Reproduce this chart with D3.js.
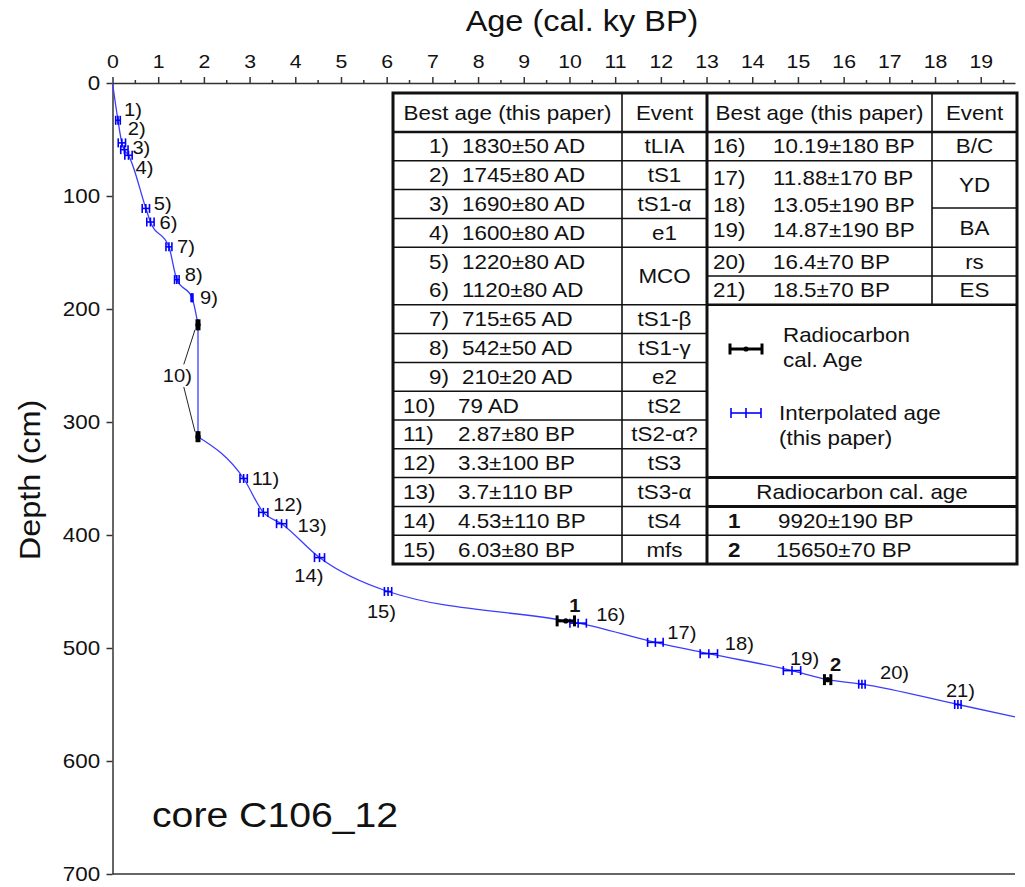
<!DOCTYPE html>
<html>
<head>
<meta charset="utf-8">
<script src="https://cdn.jsdelivr.net/npm/d3@7"></script>
<style>
  html, body { margin: 0; padding: 0; background: #fff; }
  svg { display: block; }
  text { font-family: "Liberation Sans", Arial, sans-serif; fill: #111; }
</style>
</head>
<body>
<svg id="chart" width="1025" height="887"></svg>
<script>
// ---- Age model of core C106_12 ----
const eventNumbers = ["1)", "2)", "3)", "4)", "5)", "6)", "7)", "8)", "9)", "10)", "11)", "12)", "13)", "14)", "15)",
                      "16)", "17)", "18)", "19)", "20)", "21)"];
const bestAges = ["1830±50 AD", "1745±80 AD", "1690±80 AD", "1600±80 AD", "1220±80 AD", "1120±80 AD",
                  "715±65 AD", "542±50 AD", "210±20 AD", "79 AD", "2.87±80 BP", "3.3±100 BP", "3.7±110 BP",
                  "4.53±110 BP", "6.03±80 BP", "10.19±180 BP", "11.88±170 BP", "13.05±190 BP",
                  "14.87±190 BP", "16.4±70 BP", "18.5±70 BP"];
const eventDepths = [33, 53, 59, 64, 111, 123, 145, 174, 190, null, 350, 380, 390, 420, 450,
                     478, 495, 505, 520, 532, 550];
const leftEvents = ["tLIA", "tS1", "tS1-α", "e1", "MCO", "tS1-β", "tS1-γ", "e2", "tS2", "tS2-α?", "tS3", "tS3-α", "tS4", "mfs"];
const rightEvents = ["B/C", "YD", "BA", "rs", "ES"];

// event 10 (79 AD) is dated at the top and base of the deposit
const tephraIndex = 9;
const tephraDepths = [214, 313];

// radiocarbon calibrated ages
const radiocarbonIds = ["1", "2"];
const radiocarbonAges = ["9920±190 BP", "15650±70 BP"];
const radiocarbonDepths = [476, 528];

// age-depth curve end points
const curveStart = [0, 0];
const curveEnd = [19.75, 561];

const xTicks = d3.range(0, 20);
const xMinorTicks = d3.range(0.5, 20, 1);
const yTicks = d3.range(0, 701, 100);

// ---- parse "value±error AD/BP" into ky BP ----
function parseAge(s) {
  const m = s.match(/([\d.]+)(?:±(\d+))?\s*(AD|BP)/);
  const v = +m[1], e = m[2] ? +m[2] : 0;
  if (m[3] === "AD") return { age: (1950 - v) / 1000, err: e / 1000 };
  return { age: v > 100 ? v / 1000 : v, err: e / 1000 };
}

const SX = 1.12; // horizontal text stretch
const svg = d3.select("#chart");

function txt(g, x, y, s, size, anchor = "start", weight = "normal") {
  return g.append("text")
    .attr("transform", `translate(${x},${y}) scale(${SX},1)`)
    .attr("text-anchor", anchor)
    .style("font-size", size + "px")
    .style("font-weight", weight)
    .text(s);
}

const x = d3.scaleLinear().domain([0, 19.75]).range([112.5, 1015]);
const y = d3.scaleLinear().domain([0, 700]).range([83, 874]);

// ---- axes ----
const axisColor = "#333";
const gx = svg.append("g").attr("transform", `translate(0,${y(0)})`)
  .call(d3.axisTop(x).tickValues(xTicks).tickSize(6).tickSizeOuter(0).tickPadding(9).tickFormat(d3.format("d")));
gx.selectAll("text").style("font-size", "19px").attr("transform", `scale(${SX},1)`).style("fill", "#111");
gx.selectAll("line,path").attr("stroke", axisColor).attr("stroke-width", 1.5);
svg.append("g").selectAll("line").data(xMinorTicks).join("line")
  .attr("x1", d => x(d)).attr("x2", d => x(d))
  .attr("y1", y(0)).attr("y2", y(0) - 3)
  .attr("stroke", axisColor).attr("stroke-width", 1.5);

const gy = svg.append("g").attr("transform", `translate(${x(0)},0)`)
  .call(d3.axisLeft(y).tickValues(yTicks).tickSize(6).tickSizeOuter(0).tickPadding(5).tickFormat(d3.format("d")));
gy.selectAll("text").style("font-size", "20px").attr("transform", `scale(${SX},1)`).style("fill", "#111");
gy.selectAll("line,path").attr("stroke", axisColor).attr("stroke-width", 1.5);

svg.append("line")
  .attr("x1", x(0)).attr("x2", x(19.75))
  .attr("y1", y(700)).attr("y2", y(700))
  .attr("stroke", axisColor).attr("stroke-width", 1.5);

txt(svg, 582, 31, "Age (cal. ky BP)", 29, "middle");
svg.append("text")
  .attr("transform", `translate(40,480) rotate(-90) scale(${SX},1)`)
  .attr("text-anchor", "middle").style("font-size", "29px").text("Depth (cm)");
txt(svg, 152, 827, "core C106_12", 35);

// ---- data records ----
const events = bestAges.map((s, i) => ({ id: eventNumbers[i], ...parseAge(s), depth: eventDepths[i] }));
const tephra = tephraDepths.map(d => ({ age: events[tephraIndex].age, err: 0, depth: d }));
const radiocarbon = radiocarbonAges.map((s, i) => ({ id: radiocarbonIds[i], ...parseAge(s), depth: radiocarbonDepths[i] }));
const interpolated = events.filter((e, i) => i !== tephraIndex);

// ---- age-depth curve ----
const blueLine = "#3c3cff";
const line = d3.line().x(d => x(d[0])).y(d => y(d[1])).curve(d3.curveMonotoneX);
const upper = [curveStart, ...events.slice(0, tephraIndex).map(e => [e.age, e.depth]), [tephra[0].age, tephra[0].depth]];
const lower = [[tephra[1].age, tephra[1].depth],
  ...events.slice(tephraIndex + 1).map(e => [e.age, e.depth]),
  ...radiocarbon.map(r => [r.age, r.depth]), curveEnd].sort((a, b) => a[0] - b[0]);
const curveG = svg.append("g").attr("fill", "none").attr("stroke", blueLine).attr("stroke-width", 1.3);
curveG.append("path").attr("d", line(upper));
curveG.append("path").attr("d", d3.line().x(d => x(d[0])).y(d => y(d[1]))(tephra.map(t => [t.age, t.depth])));
curveG.append("path").attr("d", line(lower));

// ---- error-bar markers ----
function interpMarker(g, cx, x1, x2, cy, color, h) {
  const m = g.append("g").attr("stroke", color).attr("stroke-width", 1.6);
  m.append("line").attr("x1", x1).attr("x2", x2).attr("y1", cy).attr("y2", cy);
  [x1, cx, x2].forEach(px => m.append("line").attr("x1", px).attr("x2", px).attr("y1", cy - h).attr("y2", cy + h));
}
function dateMarker(g, cx, x1, x2, cy) {
  const m = g.append("g").attr("stroke", "#000").attr("stroke-width", 3);
  m.append("line").attr("x1", x1).attr("x2", x2).attr("y1", cy).attr("y2", cy);
  [x1, x2].forEach(px => m.append("line").attr("x1", px).attr("x2", px).attr("y1", cy - 5.5).attr("y2", cy + 5.5));
  g.append("circle").attr("cx", cx).attr("cy", cy).attr("r", 2.6).attr("fill", "#000");
}
const markG = svg.append("g");
interpolated.forEach(e => interpMarker(markG, x(e.age), x(e.age - e.err), x(e.age + e.err), y(e.depth), "#0000ff", 4.5));
tephra.forEach(t => dateMarker(markG, x(t.age), x(t.age - t.err) - 1, x(t.age + t.err) + 1, y(t.depth)));
radiocarbon.forEach(r => dateMarker(markG, x(r.age), x(r.age - r.err), x(r.age + r.err), y(r.depth)));

// ---- point labels (pixel offset from marker: dx, dy, anchor) ----
const labelPlacement = [
  [6, -11, "start"], [6, -14, "start"], [8, -2, "start"], [7, 12, "start"], [8, -5, "start"],
  [9, 1, "start"], [8, 0, "start"], [8, -5, "start"], [8, 0, "start"], null,
  [8, 0, "start"], [10, -8, "start"], [16, 2, "start"], [4, 18, "end"], [8, 20, "end"],
  [18, -9, "start"], [12, -10, "start"], [16, -10, "start"], [-2, -12, "start"], [18, -12, "start"], [-12, -14, "start"]
];
const labelG = svg.append("g");
events.forEach((e, i) => {
  const p = labelPlacement[i];
  if (!p) return;
  txt(labelG, x(e.age) + p[0], y(e.depth) + p[1] + 6.5, e.id, 18, p[2]);
});
const rcPlacement = [[9, -15], [8, -15]];
radiocarbon.forEach((r, i) => {
  txt(labelG, x(r.age) + rcPlacement[i][0], y(r.depth) + rcPlacement[i][1] + 6.5, r.id, 18, "middle", "bold");
});

// event 10 label with leaders to both dated levels
const t10 = { age: 1.42, depth: 259 };
txt(labelG, x(t10.age), y(t10.depth) + 6.5, events[tephraIndex].id, 18, "middle");
const leadG = svg.append("g").attr("stroke", "#222").attr("stroke-width", 1);
leadG.append("line").attr("x1", x(1.56)).attr("y1", y(249)).attr("x2", x(tephra[0].age) - 3).attr("y2", y(tephra[0].depth) + 5);
leadG.append("line").attr("x1", x(1.56)).attr("y1", y(269)).attr("x2", x(tephra[1].age) - 3).attr("y2", y(tephra[1].depth) - 5);

// ---- table ----
const L0 = 393, L1 = 622, L2 = 707, R1 = 932, R2 = 1017;
const T = 93, H = 132, P = 28.8, B = H + 15 * P;
const rowY = k => H + k * P;
const tbl = svg.append("g");
const hline = (x1, x2, yy, w) => tbl.append("line").attr("x1", x1).attr("x2", x2).attr("y1", yy).attr("y2", yy)
  .attr("stroke", "#111").attr("stroke-width", w);
const vline = (xx, y1, y2, w) => tbl.append("line").attr("x1", xx).attr("x2", xx).attr("y1", y1).attr("y2", y2)
  .attr("stroke", "#111").attr("stroke-width", w);

tbl.append("rect").attr("x", L0).attr("y", T).attr("width", R2 - L0).attr("height", B - T)
  .attr("fill", "#fff").attr("stroke", "#111").attr("stroke-width", 3);
vline(L2, T, B, 3);
vline(L1, T, B, 1.6);
vline(R1, T, rowY(6), 1.6);
hline(L0, R2, H, 2.4);
for (let k = 1; k < 15; k++) if (k !== 5) hline(L0, L2, rowY(k), 1.5);
hline(L2, R2, rowY(1), 1.5);
hline(R1, R2, 208, 1.5);
hline(L2, R2, rowY(4), 1.5);
hline(L2, R2, rowY(5), 1.5);
hline(L2, R2, rowY(6), 2.4);
hline(L2, R2, rowY(12), 3);
hline(L2, R2, rowY(13), 3);
hline(L2, R2, rowY(14), 1.5);

const FS = 20, base = 7;
const mid = k => H + (k + 0.5) * P;
txt(tbl, (L0 + L1) / 2, (T + H) / 2 + base, "Best age (this paper)", FS, "middle");
txt(tbl, (L1 + L2) / 2, (T + H) / 2 + base, "Event", FS, "middle");
txt(tbl, (L2 + R1) / 2, (T + H) / 2 + base, "Best age (this paper)", FS, "middle");
txt(tbl, (R1 + R2) / 2, (T + H) / 2 + base, "Event", FS, "middle");

for (let i = 0; i < 15; i++) {
  const yy = mid(i) + base;
  if (i < 9) txt(tbl, 449, yy, eventNumbers[i], FS, "end");
  else txt(tbl, 403, yy, eventNumbers[i], FS, "start");
  txt(tbl, i < 9 ? 462 : 458, yy, bestAges[i], FS, "start");
}
// event column: rows 5 and 6 share one cell
const leftEventRows = [0, 1, 2, 3, 4.5, 6, 7, 8, 9, 10, 11, 12, 13, 14];
leftEvents.forEach((s, j) => txt(tbl, (L1 + L2) / 2, mid(leftEventRows[j]) + base, s, FS, "middle"));

const rightTextY = [mid(0), 178, 205, 230, mid(4), mid(5)];
for (let i = 15; i < 21; i++) {
  const yy = rightTextY[i - 15] + base;
  txt(tbl, 713, yy, eventNumbers[i], FS, "start");
  txt(tbl, 773, yy, bestAges[i], FS, "start");
}
const rightEventY = [mid(0), 185, 228, mid(4), mid(5)];
rightEvents.forEach((s, j) => txt(tbl, (R1 + R2) / 2, rightEventY[j] + base, s, FS, "middle"));

// legend cell
const lg = svg.append("g");
dateMarker(lg, 746, 730, 762, 349);
interpMarker(lg, 746, 731, 761, 413, "#0000ff", 5);
txt(lg, 783, 342, "Radiocarbon", FS);
txt(lg, 783, 367, "cal. Age", FS);
txt(lg, 779, 420, "Interpolated age", FS);
txt(lg, 779, 445, "(this paper)", FS);

// radiocarbon list
txt(tbl, (L2 + R2) / 2, mid(12) + base, "Radiocarbon cal. age", FS, "middle");
radiocarbonAges.forEach((s, i) => {
  txt(tbl, 728, mid(13 + i) + base, radiocarbonIds[i], FS, "start", "bold");
  txt(tbl, i === 0 ? 778 : 776, mid(13 + i) + base, s, FS, "start");
});
</script>
</body>
</html>
